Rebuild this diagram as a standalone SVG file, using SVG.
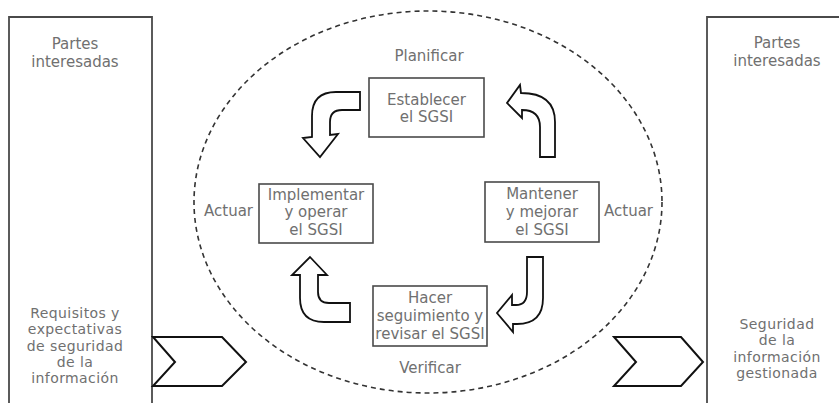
<svg xmlns="http://www.w3.org/2000/svg" width="839" height="403" viewBox="0 0 839 403">
<style>
.t{font-family:"DejaVu Sans","Liberation Sans",sans-serif;font-size:15px;fill:#707070;text-anchor:middle}
.s{font-size:14px;letter-spacing:0.4px}
.box{fill:#fff;stroke:#4a4a4a;stroke-width:1.6}
.side{fill:none;stroke:#4a4a4a;stroke-width:1.8}
.arr{fill:#fff;stroke:#111;stroke-width:1.8;stroke-linejoin:miter}
.chev{fill:#fff;stroke:#111;stroke-width:2}
.cyc{fill:none;stroke:#333;stroke-width:1.6;stroke-dasharray:5 4}
</style>
<rect width="839" height="403" fill="#fff"/>
<g id="cycle-boundary">
<ellipse class="cyc" cx="428" cy="202" rx="234" ry="191"/>
</g>
<g id="partes-izq">
<path class="side" d="M9,410 L9,17 L152,17 L152,410"/>
<text class="t" x="75" y="49">Partes</text>
<text class="t" x="75" y="67">interesadas</text>
<text class="t s" x="75" y="318">Requisitos y</text>
<text class="t s" x="75" y="334.3">expectativas</text>
<text class="t s" x="75" y="350.6">de seguridad</text>
<text class="t s" x="75" y="366.9">de la</text>
<text class="t s" x="75" y="383.2">información</text>
</g>
<g id="partes-der">
<path class="side" d="M707,410 L707,17 L845,17"/>
<text class="t" x="777" y="48">Partes</text>
<text class="t" x="777" y="66">interesadas</text>
<text class="t s" x="777" y="329">Seguridad</text>
<text class="t s" x="777" y="345.3">de la</text>
<text class="t s" x="777" y="361.6">información</text>
<text class="t s" x="777" y="377.9">gestionada</text>
</g>
<g id="planificar">
<text class="t" x="429" y="61">Planificar</text>
<rect class="box" x="369" y="78" width="115" height="59"/>
<text class="t" x="426.5" y="104.5">Establecer</text>
<text class="t" x="426.5" y="122">el SGSI</text>
</g>
<g id="hacer">
<text class="t" x="228.5" y="216">Actuar</text>
<rect class="box" x="259" y="184" width="114" height="59"/>
<text class="t" x="316" y="199.5">Implementar</text>
<text class="t" x="316" y="217">y operar</text>
<text class="t" x="316" y="234.5">el SGSI</text>
</g>
<g id="actuar">
<text class="t" x="628.5" y="216">Actuar</text>
<rect class="box" x="485" y="182" width="114" height="60"/>
<text class="t" x="542" y="199">Mantener</text>
<text class="t" x="542" y="217">y mejorar</text>
<text class="t" x="542" y="235">el SGSI</text>
</g>
<g id="verificar">
<rect class="box" x="373" y="286" width="114" height="60"/>
<text class="t" x="430" y="303">Hacer</text>
<text class="t" x="430" y="321">seguimiento y</text>
<text class="t" x="430" y="339">revisar el SGSI</text>
<text class="t" x="430" y="373">Verificar</text>
</g>
<g id="connectors">
<path class="arr" d="M360,92 L336,92 Q312,92 312,116 L312,137 L303,138 L320,157 L338,134 L330,135 L330,122 Q330,110 342,110 L360,110 Z"/>
<path class="arr" d="M540,157 L555,157 L555,122 Q555,93 521,93 L520,85 L507,103 L522,118 L522,110 Q540,110 540,127 L540,157 Z"/>
<path class="arr" d="M310,257 L327,275 L318,275 L318,292 Q318,303 329,303 L350,303 L350,322 L324,322 Q300,322 300,298 L300,275 L292,275 Z"/>
<path class="arr" d="M527,257 L543,257 L543,298 Q543,324 517,324 L513,324 L513,332 L497,313 L512,295 L512,305 L516,305 Q527,305 527,292 Z"/>
<path class="chev" d="M153,337 L222,337 L246,362 L222,386 L153,386 L175,362 Z"/>
<path class="chev" d="M614,337 L681,337 L703,362 L681,386 L614,386 L636,362 Z"/>
</g>
</svg>
